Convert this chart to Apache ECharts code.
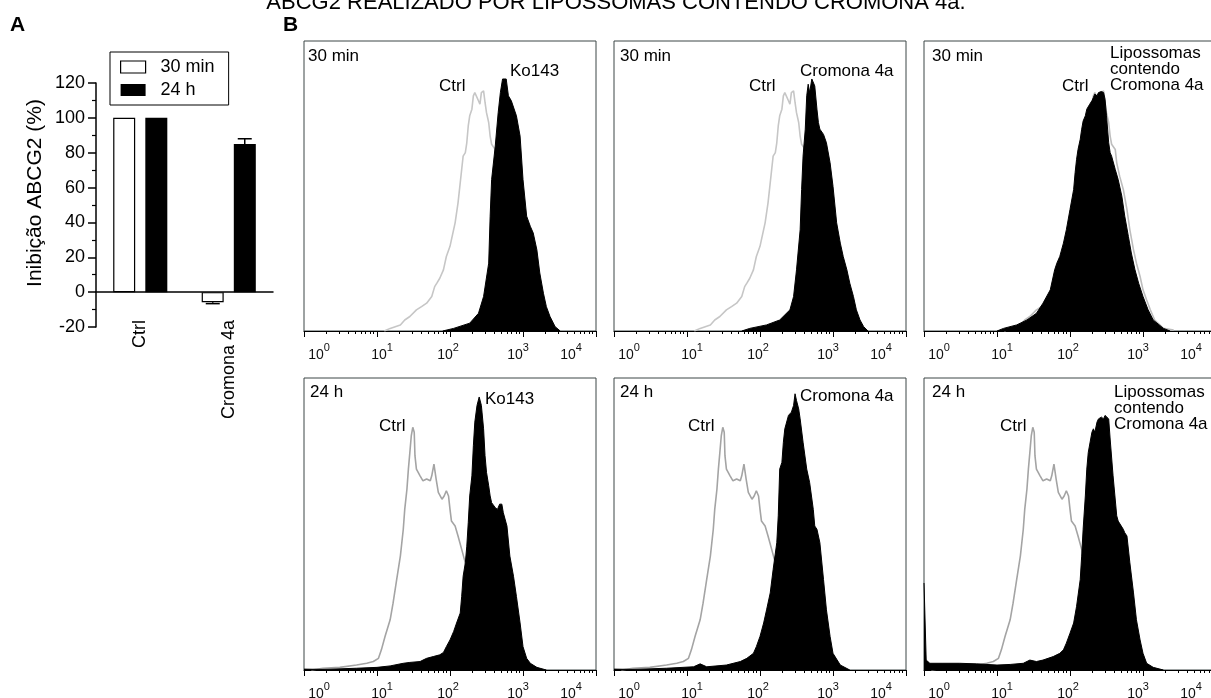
<!DOCTYPE html>
<html>
<head>
<meta charset="utf-8">
<script src="https://cdn.jsdelivr.net/npm/echarts@6.0.0/dist/echarts.min.js"></script>
<style>
html, body { margin: 0; padding: 0; background: #fff; }
#chart { width: 1211px; height: 698px; }
</style>
</head>
<body>
<div id="chart"></div>
<script>
// ---- panel A data ----
var barCategories = ['Ctrl', 'Cromona 4a'];
var inhib30min = [100, -5.8];
var inhib24h = [100, 85];
var sem30min = [0, 0.8];
var sem24h = [0, 3];

// ---- panel B data: [log10 fluorescence, events (% of frame height)] ----
var ctrl30min = [[1.10,0],[1.18,0.9],[1.32,2.1],[1.38,3.8],[1.45,5.0],[1.54,7.3],[1.61,8.4],[1.68,9.6],[1.75,11.9],[1.79,15.3],
  [1.82,16.5],[1.86,18.2],[1.91,21.1],[1.95,25.7],[2.00,29.2],[2.02,31.5],[2.07,37.3],[2.11,44.2],[2.16,55.7],[2.18,60.3],
  [2.21,61.5],[2.23,64.9],[2.25,70.7],[2.27,74.2],[2.30,76.5],[2.32,81.1],[2.34,82.2],[2.39,79.4],[2.41,78.2],[2.43,82.2],
  [2.46,82.8],[2.48,78.8],[2.50,75.3],[2.53,71.9],[2.55,67.2],[2.57,64.4],[2.62,62.6],[2.64,58.0],[2.68,53.4],[2.73,48.8],
  [2.78,41.9],[2.82,34.9],[2.87,28.0],[2.91,23.4],[2.96,18.8],[3.00,14.2],[3.05,10.7],[3.10,7.3],[3.16,3.8],[3.28,0.9],[3.42,0.3]];
var ko30min = [[1.90,0],[2.05,0.9],[2.27,2.7],[2.39,6.1],[2.46,11.9],[2.53,23.4],[2.55,39.6],[2.57,52.2],[2.62,63.8],[2.66,75.3],
  [2.69,82.2],[2.72,86.9],[2.77,86.9],[2.80,81.1],[2.84,79.4],[2.91,74.2],[2.96,67.2],[3.00,52.2],[3.05,39.6],[3.10,36.1],
  [3.14,33.8],[3.19,28.0],[3.23,20.0],[3.28,13.0],[3.32,8.4],[3.37,5.0],[3.44,1.5],[3.51,0]];
var crom30min = [[1.75,0],[1.86,0.9],[2.09,2.1],[2.27,3.8],[2.41,7.3],[2.46,11.9],[2.50,21.1],[2.55,34.9],[2.57,48.8],[2.59,60.3],
  [2.62,69.6],[2.64,81.1],[2.66,85.1],[2.68,82.2],[2.71,86.9],[2.73,87.4],[2.75,84.5],[2.78,76.5],[2.80,71.9],[2.82,69.6],
  [2.87,67.8],[2.91,64.9],[2.96,58.0],[3.00,49.9],[3.05,37.3],[3.10,30.3],[3.14,25.7],[3.19,21.1],[3.23,16.5],[3.28,11.9],
  [3.32,7.3],[3.37,3.8],[3.42,1.5],[3.48,0]];
var lipo30min = [[1.00,0],[1.09,0.9],[1.27,2.1],[1.41,3.8],[1.54,6.1],[1.63,9.6],[1.73,14.2],[1.79,21.1],[1.82,23.4],[1.86,25.7],
  [1.91,30.3],[1.95,34.9],[2.00,41.9],[2.05,48.8],[2.07,54.6],[2.09,59.2],[2.11,62.6],[2.14,66.1],[2.16,69.6],[2.18,72.4],
  [2.21,74.2],[2.23,76.5],[2.27,78.2],[2.30,79.4],[2.32,80.5],[2.34,81.7],[2.37,81.1],[2.39,82.2],[2.43,82.6],[2.46,82.2],
  [2.48,79.9],[2.50,74.2],[2.53,64.9],[2.55,61.5],[2.57,60.3],[2.62,55.7],[2.66,52.2],[2.71,46.5],[2.75,39.6],[2.80,32.6],
  [2.84,26.9],[2.89,21.1],[2.94,16.5],[3.00,11.9],[3.07,7.3],[3.14,3.8],[3.28,0.9],[3.37,0]];
var ctrl24h = [[0.10,0],[0.26,0.6],[0.49,0.9],[0.72,1.7],[0.86,2.3],[0.95,2.9],[1.02,4.0],[1.06,6.9],[1.11,11.5],[1.18,17.2],
  [1.22,22.9],[1.27,31.0],[1.32,39.0],[1.36,48.2],[1.38,55.0],[1.41,61.9],[1.43,68.8],[1.45,74.5],[1.47,80.3],[1.49,83.1],
  [1.51,81.4],[1.52,73.4],[1.54,68.8],[1.59,66.5],[1.63,64.8],[1.68,65.4],[1.73,64.8],[1.75,66.5],[1.78,70.5],[1.81,65.4],
  [1.84,60.8],[1.89,58.5],[1.92,59.6],[1.95,61.4],[1.98,59.6],[2.00,55.0],[2.02,51.0],[2.07,49.3],[2.11,45.9],[2.16,41.3],
  [2.21,36.7],[2.27,29.8],[2.37,19.5],[2.46,11.5],[2.55,4.6],[2.68,0.9],[2.82,0.2]];
var ko24h = [[0.00,0.3],[0.26,0.2],[0.72,0.6],[1.00,0.9],[1.18,1.4],[1.36,2.3],[1.45,2.6],[1.59,2.9],[1.63,3.4],[1.68,4.0],
  [1.77,4.6],[1.86,5.2],[1.91,6.0],[1.95,8.0],[2.00,10.3],[2.05,13.2],[2.09,16.1],[2.14,19.5],[2.16,25.2],[2.18,32.1],
  [2.21,36.7],[2.23,42.4],[2.25,50.5],[2.27,59.6],[2.30,66.5],[2.32,76.8],[2.34,84.9],[2.37,90.6],[2.40,93.5],[2.43,90.6],
  [2.46,82.6],[2.48,73.4],[2.50,67.7],[2.53,63.1],[2.55,59.6],[2.57,57.3],[2.62,55.6],[2.65,55.0],[2.68,56.8],[2.71,56.8],
  [2.73,53.9],[2.78,49.3],[2.82,39.0],[2.87,32.1],[2.91,25.2],[2.96,16.1],[3.00,8.0],[3.05,4.0],[3.10,2.3],[3.19,0.9],[3.32,0]];
var crom24h = [[0.00,0.3],[0.26,0.2],[0.72,0.6],[1.09,1.1],[1.18,2.1],[1.27,1.1],[1.54,1.7],[1.73,2.9],[1.82,4.0],[1.91,5.7],
  [1.95,8.0],[2.00,11.5],[2.05,16.1],[2.09,20.6],[2.14,26.4],[2.18,34.4],[2.23,43.6],[2.25,52.8],[2.27,68.8],[2.30,71.1],
  [2.32,78.0],[2.34,82.6],[2.39,87.2],[2.41,87.7],[2.43,88.3],[2.46,90.6],[2.48,94.6],[2.50,92.3],[2.53,89.4],[2.55,86.0],
  [2.59,78.0],[2.64,68.8],[2.68,64.2],[2.73,55.0],[2.75,49.3],[2.78,48.2],[2.80,47.6],[2.82,43.6],[2.87,31.0],[2.91,20.6],
  [2.96,11.5],[3.00,5.7],[3.10,1.7],[3.23,0]];
var lipo24h = [[0.00,29.8],[0.03,3.4],[0.08,2.3],[0.26,2.3],[0.49,2.3],[0.72,2.1],[1.00,1.7],[1.18,1.9],[1.36,2.3],[1.45,3.4],
  [1.54,2.9],[1.63,3.4],[1.77,4.6],[1.86,5.7],[1.91,6.9],[1.95,9.2],[2.00,12.6],[2.05,16.1],[2.09,21.8],[2.14,31.0],
  [2.16,39.0],[2.18,48.2],[2.21,59.6],[2.23,68.8],[2.25,74.5],[2.30,81.4],[2.32,82.6],[2.34,81.4],[2.37,84.9],[2.39,86.0],
  [2.41,85.4],[2.43,86.6],[2.46,86.0],[2.48,87.2],[2.50,87.7],[2.53,86.0],[2.55,79.1],[2.59,66.5],[2.64,52.8],[2.66,51.0],
  [2.68,50.5],[2.73,48.2],[2.75,47.0],[2.78,45.9],[2.82,36.7],[2.87,26.4],[2.91,17.2],[2.96,10.3],[3.00,5.7],[3.05,2.3],
  [3.14,0.9],[3.28,0]];

var decadeTicks = [1, 10, 100, 1000, 10000];

var FONT = 'Liberation Sans, Arial, sans-serif';

// horizontal nudge of each decade label, as in the original figure
var labelShift = [15, 5, -2, -5, -25];
var decadeRich = {
  b: { fontSize: 14, lineHeight: 20, verticalAlign: 'bottom', color: '#111', fontFamily: FONT },
  s: { fontSize: 11, lineHeight: 10, verticalAlign: 'top', color: '#111', fontFamily: FONT }
};
labelShift.forEach(function (s, i) {
  decadeRich['sp' + i] = { width: Math.abs(s) * 2, fontSize: 10 };
});
function decadeLabel(v) {
  var e = Math.round(Math.log10(v));
  var core = '{b|10}{s|' + e + '}';
  var sp = '{sp' + e + '| }';
  return labelShift[e] > 0 ? sp + core : core + sp;
}

function toLinear(pts) {
  return pts.map(function (p) { return [Math.pow(10, p[0]), p[1]]; });
}

var panels = [
  { left: 304, top: 41, height: 290, ctrl: ctrl30min, treat: ko30min, gray: '#c6c6c6' },
  { left: 614, top: 41, height: 290, ctrl: ctrl30min, treat: crom30min, gray: '#c6c6c6' },
  { left: 924, top: 41, height: 290, ctrl: ctrl30min, treat: lipo30min, gray: '#bdbdbd' },
  { left: 304, top: 378, height: 292, ctrl: ctrl24h, treat: ko24h, gray: '#a4a4a4' },
  { left: 614, top: 378, height: 292, ctrl: ctrl24h, treat: crom24h, gray: '#a4a4a4' },
  { left: 924, top: 378, height: 292, ctrl: ctrl24h, treat: lipo24h, gray: '#a4a4a4' }
];

var grids = [{ left: 96, top: 83, width: 177, height: 244, outerBoundsMode: 'none' }];
var xAxes = [{
  type: 'category', gridIndex: 0, data: barCategories,
  axisLine: { onZero: true, lineStyle: { color: '#000', width: 1.5 } },
  axisTick: { alignWithLabel: true, length: 6, lineStyle: { color: '#000', width: 1.5 } },
  axisLabel: { rotate: 90, margin: -7, fontSize: 18, color: '#000', interval: 0, fontFamily: FONT }
}];
var yAxes = [{
  type: 'value', gridIndex: 0, min: -20, max: 120, interval: 20,
  axisLine: { show: true, lineStyle: { color: '#000', width: 1.5 } },
  axisTick: { show: true, length: 8, lineStyle: { color: '#000', width: 1.5 } },
  minorTick: { show: true, splitNumber: 2, length: 4, lineStyle: { color: '#000', width: 1.2 } },
  splitLine: { show: false },
  axisLabel: { fontSize: 18, color: '#000', margin: 11, fontFamily: FONT },
  name: 'Inibição ABCG2 (%)', nameLocation: 'middle', nameGap: 50,
  nameTextStyle: { fontSize: 21, color: '#000', fontFamily: FONT, padding: [0, 0, 0, 24] }
}];

var errData = [];
barCategories.forEach(function (c, i) {
  if (sem30min[i] > 0) errData.push([i, inhib30min[i], sem30min[i], -1]);
  if (sem24h[i] > 0) errData.push([i, inhib24h[i], sem24h[i], 1]);
});

var series = [
  { name: '30 min', type: 'bar', xAxisIndex: 0, yAxisIndex: 0, data: inhib30min, barWidth: 22, barGap: '46%',
    itemStyle: { color: '#fff', borderColor: '#000', borderWidth: 1.2 } },
  { name: '24 h', type: 'bar', xAxisIndex: 0, yAxisIndex: 0, data: inhib24h, barWidth: 22, barGap: '46%',
    itemStyle: { color: '#000' } },
  { type: 'custom', xAxisIndex: 0, yAxisIndex: 0, data: errData, z: 5,
    renderItem: function (params, api) {
      var v = api.value(1), e = api.value(2);
      var base = api.coord([api.value(0), v]);
      var end = api.coord([api.value(0), v + (v < 0 ? -e : e)]);
      var x = base[0] + api.value(3) * 16;
      return { type: 'group', children: [
        { type: 'line', shape: { x1: x, y1: base[1], x2: x, y2: end[1] }, style: { stroke: '#000', lineWidth: 1.5 } },
        { type: 'line', shape: { x1: x - 7, y1: end[1], x2: x + 7, y2: end[1] }, style: { stroke: '#000', lineWidth: 1.5 } }
      ] };
    } }
];

panels.forEach(function (p, k) {
  var g = k + 1;
  grids.push({ left: p.left, top: p.top, width: 292, height: p.height, show: true,
    borderColor: '#3d4747', borderWidth: 1, backgroundColor: 'transparent', outerBoundsMode: 'none' });
  xAxes.push({
    type: 'log', logBase: 10, gridIndex: g, min: decadeTicks[0], max: decadeTicks[decadeTicks.length - 1],
    axisLine: { show: true, onZero: false, lineStyle: { color: '#000', width: 1.2 } },
    axisTick: { show: true, length: 6, lineStyle: { color: '#000', width: 1 } },
    minorTick: { show: true, splitNumber: 9, length: 3, lineStyle: { color: '#000', width: 1 } },
    splitLine: { show: false }, minorSplitLine: { show: false },
    axisLabel: { margin: 11, formatter: decadeLabel, rich: decadeRich }
  });
  yAxes.push({ type: 'value', gridIndex: g, min: 0, max: 100, show: false, splitLine: { show: false } });
  series.push({
    type: 'line', xAxisIndex: g, yAxisIndex: g, data: toLinear(p.ctrl), showSymbol: false, silent: true,
    lineStyle: { color: p.gray, width: 1.6 }, z: 2
  });
  series.push({
    type: 'line', xAxisIndex: g, yAxisIndex: g, data: toLinear(p.treat), showSymbol: false, silent: true,
    lineStyle: { color: '#000', width: 1 }, areaStyle: { color: '#000', opacity: 1 }, z: 3
  });
});

function txt(text, x, y, opt) {
  opt = opt || {};
  return { type: 'text', x: x, y: y, z: 10, silent: true,
    style: { text: text, fill: '#000', font: (opt.weight || 'normal') + ' ' + (opt.size || 17) + 'px ' + FONT,
      textAlign: opt.align || 'left', verticalAlign: 'middle', lineHeight: opt.lh } };
}

var graphics = [
  txt('ABCG2 REALIZADO POR LIPOSSOMAS CONTENDO CROMONA 4a.', 616, 3, { size: 22, align: 'center' }),
  txt('A', 10, 25.5, { size: 21, weight: 'bold' }),
  txt('B', 283, 25.5, { size: 21, weight: 'bold' }),
  txt('30 min', 308, 56), txt('30 min', 620, 56), txt('30 min', 932, 56),
  txt('Ctrl', 439, 86), txt('Ctrl', 749, 86), txt('Ctrl', 1062, 86),
  txt('Ko143', 510, 71), txt('Cromona 4a', 800, 71),
  txt('Lipossomas\ncontendo\nCromona 4a', 1110, 69.5, { lh: 16 }),
  txt('24 h', 310, 392.5), txt('24 h', 620, 392.5), txt('24 h', 932, 392.5),
  txt('Ctrl', 379, 426), txt('Ctrl', 688, 426), txt('Ctrl', 1000, 426),
  txt('Ko143', 485, 399), txt('Cromona 4a', 800, 396),
  txt('Lipossomas\ncontendo\nCromona 4a', 1114, 408, { lh: 16 })
];

var chart = echarts.init(document.getElementById('chart'));
chart.setOption({
  backgroundColor: '#fff',
  animation: false,
  textStyle: { fontFamily: FONT },
  legend: {
    orient: 'vertical', left: 110, top: 52, padding: [5, 14, 5, 10], itemGap: 3,
    itemWidth: 25, itemHeight: 12, borderColor: '#000', borderWidth: 1,
    textStyle: { fontSize: 18, color: '#000', lineHeight: 20, padding: [0, 0, 0, 10], fontFamily: FONT },
    data: [
      { name: '30 min', icon: 'rect', itemStyle: { color: '#fff', borderColor: '#000', borderWidth: 1.2 } },
      { name: '24 h', icon: 'rect', itemStyle: { color: '#000' } }
    ]
  },
  grid: grids,
  xAxis: xAxes,
  yAxis: yAxes,
  series: series,
  graphic: graphics
});
window.addEventListener('resize', function () { chart.resize(); });
</script>
</body>
</html>
